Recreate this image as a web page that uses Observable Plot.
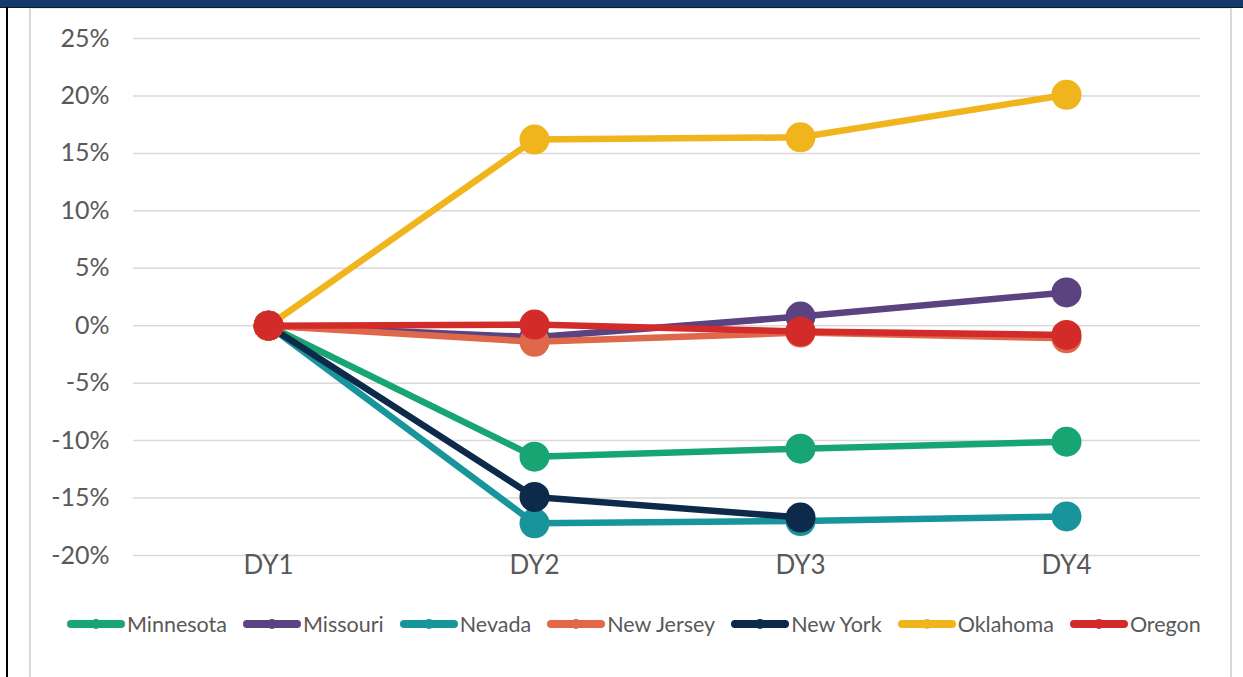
<!DOCTYPE html>
<html>
<head>
<meta charset="utf-8">
<script src="https://cdn.jsdelivr.net/npm/d3@7"></script>
<script src="https://cdn.jsdelivr.net/npm/@observablehq/plot@0.6"></script>
<style>
  html, body { margin: 0; padding: 0; background: #fff; }
  body { width: 1243px; height: 677px; position: relative; overflow: hidden; font-family: Lato, "Open Sans", sans-serif; }
  #topband { position: absolute; left: 0; top: 0; width: 1243px; height: 7px; background: #123a6b; border-bottom: 1px solid #0a1a30; }
  #leftblack { position: absolute; left: 6px; top: 7px; width: 2px; height: 670px; background: #000; }
  #innerbox { position: absolute; left: 29px; top: 8px; width: 1199px; height: 680px; border-left: 2px solid #d9d9d9; border-right: 2px solid #d9d9d9; border-top: 1px solid #e6e6e6; }
  #chart { position: absolute; left: 0; top: 0; }
  #legend { position: absolute; left: 67px; top: 611px; display: flex; align-items: center; font-size: 21.5px; color: #595959; white-space: nowrap; }
  .item { display: flex; align-items: center; margin-right: 16px; }
  .sw { position: relative; width: 58px; height: 8px; border-radius: 4px; margin-right: 2px; }
  .sw::after { content: ""; position: absolute; left: 24px; top: -1px; width: 10px; height: 10px; border-radius: 50%; background: inherit; }
</style>
</head>
<body>
<div id="topband"></div>
<div id="leftblack"></div>
<div id="innerbox"></div>
<div id="chart"></div>
<div id="legend"></div>
<script>
const days = ["DY1", "DY2", "DY3", "DY4"];
const states = ["Minnesota", "Missouri", "Nevada", "New Jersey", "New York", "Oklahoma", "Oregon"];
const colors = ["#17a673", "#5a4380", "#17959a", "#df674a", "#0d2a4b", "#f0b41c", "#d32a2a"];
const minnesota = [0, -11.4, -10.7, -10.1];
const missouri  = [0, -1.0, 0.8, 2.9];
const nevada    = [0, -17.2, -17.0, -16.6];
const newJersey = [0, -1.4, -0.6, -1.1];
const newYork   = [0, -14.9, -16.7, null];
const oklahoma  = [0, 16.2, 16.4, 20.1];
const oregon    = [0, 0.1, -0.5, -0.8];
const seriesValues = [minnesota, missouri, nevada, newJersey, newYork, oklahoma, oregon];
const yTicks = [-20, -15, -10, -5, 0, 5, 10, 15, 20, 25];

const marks = [];
states.forEach((s, i) => {
  const rows = days.map((d, j) => ({day: d, value: seriesValues[i][j], state: s}))
                   .filter(r => r.value !== null);
  marks.push(Plot.line(rows, {x: "day", y: "value", stroke: colors[i], strokeWidth: 6.5, strokeLinejoin: "round"}));
  marks.push(Plot.dot(rows, {x: "day", y: "value", fill: colors[i], r: 15, stroke: "none"}));
});

const chart = Plot.plot({
  width: 1243,
  height: 600,
  marginLeft: 133,
  marginRight: 43,
  marginTop: 38,
  marginBottom: 45,
  style: {fontFamily: "Lato, sans-serif", color: "#595959", background: "transparent", overflow: "visible"},
  x: {type: "point", domain: days, padding: 0.5, label: null},
  y: {domain: [-20, 25], ticks: yTicks, label: null},
  marks: [
    Plot.gridY(yTicks, {stroke: "#d9d9d9", strokeOpacity: 1, strokeWidth: 1.5}),
    Plot.axisY({ticks: yTicks, tickFormat: d => d + "%", tickSize: 0, tickPadding: 24, fontSize: 25, label: null}),
    Plot.axisX({tickSize: 0, tickPadding: 0, fontSize: 26, label: null}),
    ...marks
  ]
});
document.getElementById("chart").appendChild(chart);

const legend = document.getElementById("legend");
states.forEach((s, i) => {
  const it = document.createElement("div");
  it.className = "item";
  const sw = document.createElement("span");
  sw.className = "sw";
  sw.style.background = colors[i];
  const tx = document.createElement("span");
  tx.textContent = s;
  it.appendChild(sw);
  it.appendChild(tx);
  legend.appendChild(it);
});
</script>
</body>
</html>
